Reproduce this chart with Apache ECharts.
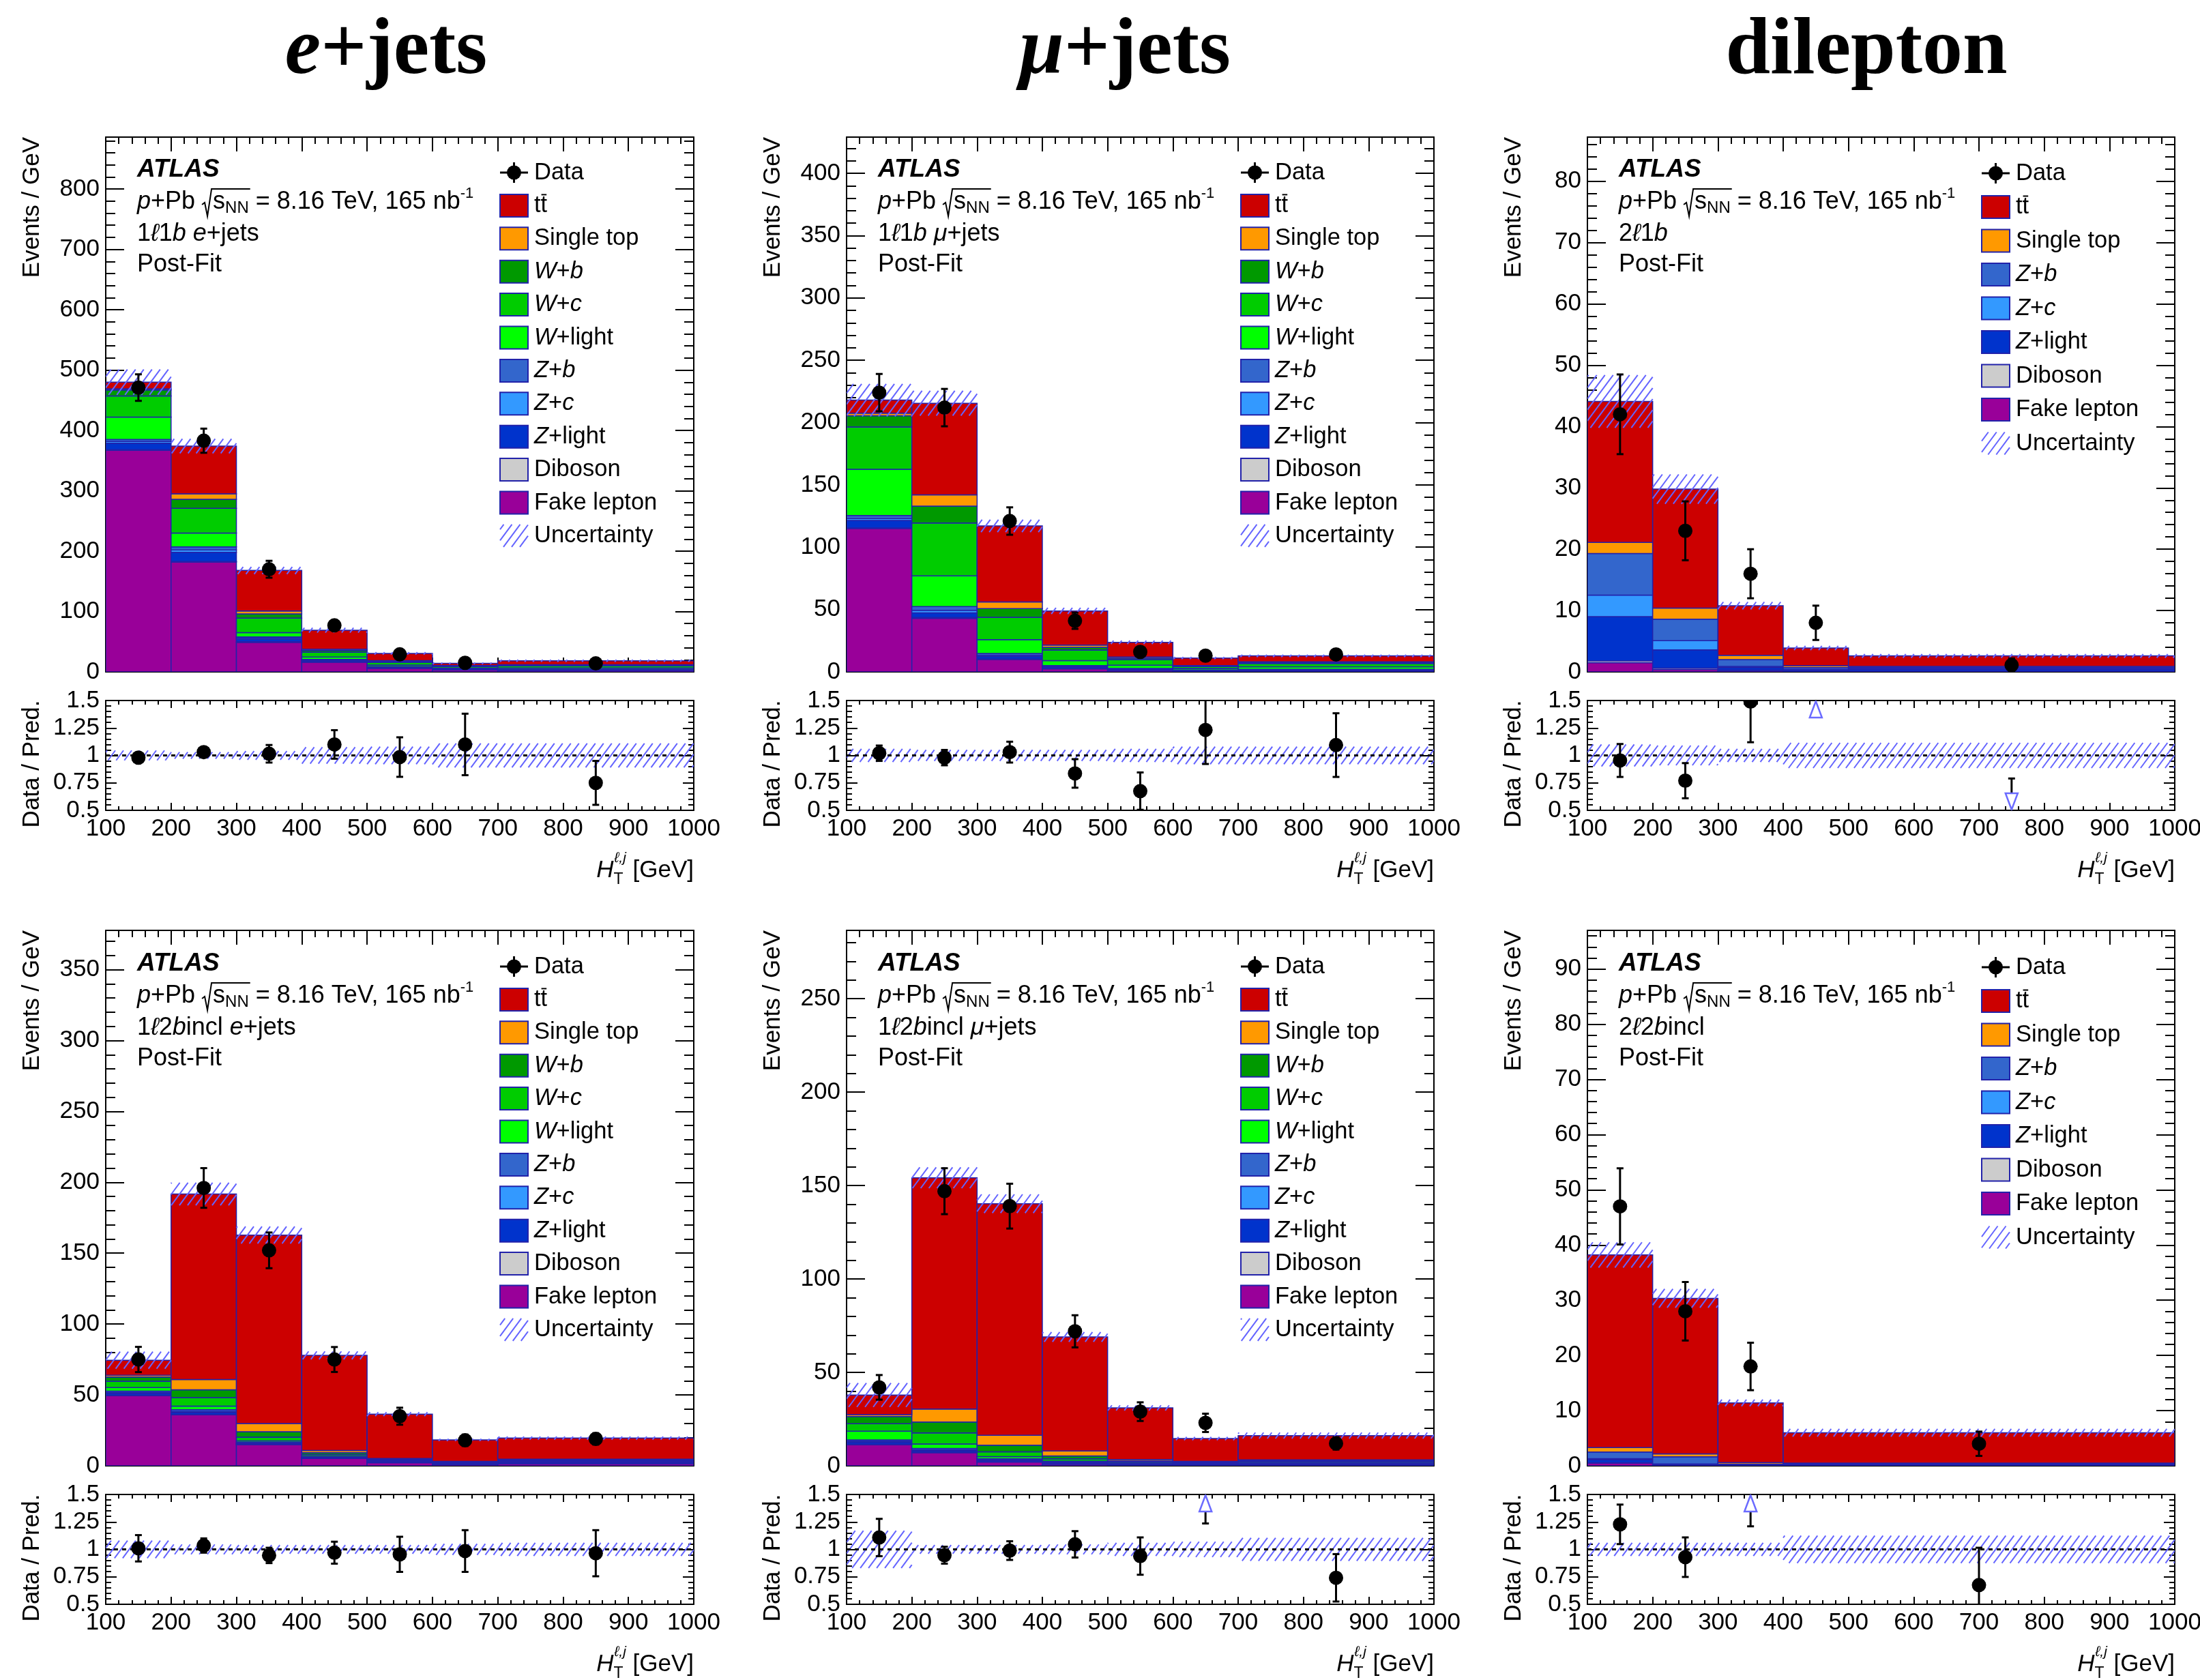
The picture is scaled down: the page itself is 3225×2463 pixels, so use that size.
<!DOCTYPE html>
<html><head><meta charset="utf-8">
<script src="https://cdn.jsdelivr.net/npm/echarts/dist/echarts.min.js"></script>
<style>html,body{margin:0;padding:0;background:#fff}#c{width:3225px;height:2463px}</style>
</head><body><div id="c"></div><script>
// ---------------- DATA (Events / GeV) ----------------
const EDGES_LJ = [100, 200, 300, 400, 500, 600, 700, 1000];
const EDGES_DL_1B = [100, 200, 300, 400, 500, 1000];
const EDGES_DL_2B = [100, 200, 300, 400, 1000];
const X_MIN = 100, X_MAX = 1000;
const RATIO_MIN = 0.5, RATIO_MAX = 1.5;

// 1l1b e+jets
const E1_FAKE   = [367, 182, 49, 16, 6, 3, 2.5];
const E1_DIBOSON= [1, 1, 1, 0.5, 0.3, 0.2, 0.3];
const E1_ZLIGHT = [11, 15, 4, 2, 1.5, 1, 1];
const E1_ZC     = [3, 4, 2, 1, 0.5, 0.3, 0.3];
const E1_ZB     = [3, 5, 2, 1, 0.5, 0.3, 0.3];
const E1_WLIGHT = [37, 23, 7, 4, 2.5, 1.5, 2];
const E1_WC     = [35, 41, 24, 8, 4.5, 2.5, 3.5];
const E1_WB     = [10, 15, 7, 3, 1.5, 1, 1.5];
const E1_SINGLE = [2, 9, 5, 2, 1.3, 0.7, 0.6];
const E1_TTBAR  = [11, 79, 67, 31.5, 12, 3.5, 6.3];
const E1_DATA   = [471, 383, 170, 77, 29, 15, 14];
const E1_DATA_ERR = [22, 20, 14, 8, 5, 4, 3.7];
const E1_UNC    = [21, 12, 6, 4, 2, 1.4, 1.8];
const E1_RATIO  = [0.98, 1.03, 1.015, 1.10, 0.985, 1.10, 0.75];
const E1_RATIO_ERR = [0.02, 0.02, 0.08, 0.13, 0.18, 0.28, 0.2];
const E1_RATIO_UNC = [0.045, 0.03, 0.04, 0.075, 0.08, 0.11, 0.11];

// 1l1b mu+jets
const M1_FAKE   = [115, 43, 10, 2.5, 1.2, 0.5, 0.6];
const M1_DIBOSON= [0.5, 0.6, 0.4, 0.3, 0.2, 0.1, 0.2];
const M1_ZLIGHT = [6, 3.8, 1.9, 1.2, 0.8, 0.5, 0.8];
const M1_ZC     = [1.5, 2, 1, 0.5, 0.3, 0.2, 0.2];
const M1_ZB     = [2.5, 3, 1.5, 0.5, 0.3, 0.2, 0.3];
const M1_WLIGHT = [37, 24.6, 11, 4, 2.5, 1.2, 2];
const M1_WC     = [34, 42.4, 18, 8.5, 4.5, 1.6, 2.6];
const M1_WB     = [9, 13.6, 7, 2.2, 1.2, 0.5, 1];
const M1_SINGLE = [2, 9, 5.3, 1.8, 0.9, 0.3, 0.4];
const M1_TTBAR  = [10.5, 73.5, 61, 27.4, 11.8, 6, 4.7];
const M1_DATA   = [224, 212, 121, 41, 16, 13, 14];
const M1_DATA_ERR = [15, 15, 11, 6.5, 4, 3.6, 3.7];
const M1_UNC    = [13, 10, 5, 2.5, 1.4, 0.9, 1.0];
const M1_RATIO  = [1.02, 0.98, 1.03, 0.836, 0.675, 1.232, 1.094];
const M1_RATIO_ERR = [0.07, 0.07, 0.095, 0.13, 0.17, 0.31, 0.29];
const M1_RATIO_UNC = [0.06, 0.05, 0.05, 0.05, 0.06, 0.08, 0.08];

// 2l1b dilepton
const D1_FAKE   = [1.5, 0.4, 0.2, 0.05, 0.05];
const D1_DIBOSON= [0.3, 0.2, 0.1, 0.05, 0.05];
const D1_ZLIGHT = [7.2, 3.0, 0.4, 0.2, 0.3];
const D1_ZC     = [3.5, 1.5, 0.2, 0.1, 0.1];
const D1_ZB     = [6.8, 3.5, 1.1, 0.3, 0.2];
const D1_SINGLE = [1.8, 1.8, 0.7, 0.3, 0.2];
const D1_TTBAR  = [23, 19.4, 8.1, 2.9, 1.7];
const D1_DATA   = [42, 23, 16, 8, 1.1];
const D1_DATA_ERR = [6.5, 4.8, 4, 2.8, 1.1];
const D1_UNC    = [4.3, 2.4, 0.6, 0.35, 0.3];
const D1_RATIO  = [0.954, 0.77, 1.49, 2.05, 0.38];
const D1_RATIO_ERR = [0.15, 0.16, 0.37, 0.5, 0.41];
const D1_RATIO_UNC = [0.1, 0.09, 0.06, 0.115, 0.115];

// 1l2bincl e+jets
const E2_FAKE   = [49.5, 36, 15, 5.2, 2.2, 1, 1.5];
const E2_DIBOSON= [0.3, 0.2, 0.1, 0.1, 0.1, 0.1, 0.1];
const E2_ZLIGHT = [1.3, 1.3, 0.5, 0.3, 0.3, 0.3, 0.5];
const E2_ZC     = [0.6, 0.8, 0.4, 0.2, 0.1, 0.1, 0.2];
const E2_ZB     = [1, 1.3, 0.6, 0.3, 0.2, 0.2, 0.3];
const E2_WLIGHT = [2.5, 2.5, 1, 0.5, 0.4, 0.3, 0.6];
const E2_WC     = [4.5, 6, 2.6, 1.2, 0.7, 0.5, 0.7];
const E2_WB     = [3, 5.5, 3.9, 1.5, 0.6, 0.3, 0.4];
const E2_SINGLE = [1.2, 7.3, 5.7, 1.5, 0.6, 0.3, 0.4];
const E2_TTBAR  = [10.6, 130.8, 133, 67.1, 31.3, 15.2, 14.9];
const E2_DATA   = [75, 196, 152, 75, 35, 18, 19];
const E2_DATA_ERR = [8.9, 14, 12.6, 8.8, 6, 4, 4];
const E2_UNC    = [6, 8, 6, 2.8, 1.4, 0.8, 1.1];
const E2_RATIO  = [1.01, 1.035, 0.945, 0.97, 0.955, 0.985, 0.965];
const E2_RATIO_ERR = [0.12, 0.065, 0.07, 0.1, 0.16, 0.19, 0.21];
const E2_RATIO_UNC = [0.08, 0.045, 0.04, 0.04, 0.04, 0.05, 0.06];

// 1l2bincl mu+jets
const M2_FAKE   = [11.3, 7, 2, 0.8, 0.3, 0.2, 0.3];
const M2_DIBOSON= [0.3, 0.3, 0.2, 0.2, 0.1, 0.1, 0.1];
const M2_ZLIGHT = [1, 0.7, 0.6, 0.4, 0.3, 0.3, 0.5];
const M2_ZC     = [0.5, 0.5, 0.3, 0.2, 0.1, 0.1, 0.1];
const M2_ZB     = [0.8, 0.8, 0.6, 0.3, 0.2, 0.2, 0.3];
const M2_WLIGHT = [4.6, 2.4, 1.2, 0.6, 0.4, 0.4, 0.6];
const M2_WC     = [4, 5.9, 2.6, 1.2, 0.6, 0.5, 0.7];
const M2_WB     = [3.9, 5.9, 3.5, 1.6, 0.6, 0.3, 0.3];
const M2_SINGLE = [1, 6.9, 5.3, 2.6, 0.8, 0.3, 0.3];
const M2_TTBAR  = [10.5, 123.8, 124, 61.1, 27.6, 12.2, 13];
const M2_DATA   = [42, 147, 139, 72, 29, 23, 12];
const M2_DATA_ERR = [6.6, 12.3, 12, 8.6, 5, 4.9, 3.3];
const M2_UNC    = [6.4, 5.6, 5, 2.6, 1.4, 0.9, 1.6];
const M2_RATIO  = [1.108, 0.947, 0.989, 1.046, 0.939, 1.58, 0.741];
const M2_RATIO_ERR = [0.17, 0.077, 0.085, 0.12, 0.17, 0.344, 0.216];
const M2_RATIO_UNC = [0.17, 0.04, 0.04, 0.045, 0.06, 0.07, 0.105];

// 2l2bincl dilepton
const D2_FAKE   = [0.5, 0.05, 0.02, 0.02];
const D2_DIBOSON= [0.1, 0.05, 0.03, 0.03];
const D2_ZLIGHT = [0.5, 0.15, 0.05, 0.1];
const D2_ZC     = [0.2, 0.1, 0.05, 0.05];
const D2_ZB     = [1.2, 1.3, 0.15, 0.15];
const D2_SINGLE = [0.8, 0.5, 0.3, 0.15];
const D2_TTBAR  = [34.9, 28.2, 10.8, 5.5];
const D2_DATA   = [47, 28, 18, 4];
const D2_DATA_ERR = [6.9, 5.3, 4.3, 2.2];
const D2_UNC    = [2.3, 1.7, 0.6, 0.7];
const D2_RATIO  = [1.228, 0.929, 1.58, 0.675];
const D2_RATIO_ERR = [0.18, 0.18, 0.37, 0.34];
const D2_RATIO_UNC = [0.06, 0.06, 0.06, 0.125];

// axis ranges: [ymax, major step, minor step]
const Y_E1 = [886, 100, 20];
const Y_M1 = [429, 50, 10];
const Y_D1 = [87.2, 10, 2];
const Y_E2 = [377.7, 50, 10];
const Y_M2 = [286.6, 50, 10];
const Y_D2 = [97, 10, 2];

const TITLES = ['e+jets', 'μ+jets', 'dilepton'];

// ---------------- STYLE / LAYOUT ----------------
const SANS = '"Liberation Sans", Arial, Helvetica, sans-serif';
const SERIF = '"Liberation Serif", "Times New Roman", serif';
const COLORS = {fake:'#990099', diboson:'#cccccc', zlight:'#0033cc', zc:'#3399ff', zb:'#3366cc',
  wlight:'#00ff00', wc:'#00cc00', wb:'#009900', single:'#ff9900', ttbar:'#cc0000'};
const STACK_ORDER = ['fake','diboson','zlight','zc','zb','wlight','wc','wb','single','ttbar'];
const EDGE_COLOR = '#2222aa';
const HATCH_COLOR = '#6464ff';
const PLOT_L = [155, 1241, 2327];
const PLOT_R = [1017, 2102, 3188];
const MAIN_T = [201, 1364], MAIN_B = [985, 2149];
const RAT_T = [1027, 2191], RAT_B = [1188, 2352];
const ROW_OFF = 1164;

const PANELS = [
  {col:0,row:0, edges:EDGES_LJ, y:Y_E1, leg:'lj', chan:'e1',
   comps:{fake:E1_FAKE,diboson:E1_DIBOSON,zlight:E1_ZLIGHT,zc:E1_ZC,zb:E1_ZB,wlight:E1_WLIGHT,wc:E1_WC,wb:E1_WB,single:E1_SINGLE,ttbar:E1_TTBAR},
   data:E1_DATA, err:E1_DATA_ERR, unc:E1_UNC, ratio:E1_RATIO, rerr:E1_RATIO_ERR, runc:E1_RATIO_UNC},
  {col:1,row:0, edges:EDGES_LJ, y:Y_M1, leg:'lj', chan:'m1',
   comps:{fake:M1_FAKE,diboson:M1_DIBOSON,zlight:M1_ZLIGHT,zc:M1_ZC,zb:M1_ZB,wlight:M1_WLIGHT,wc:M1_WC,wb:M1_WB,single:M1_SINGLE,ttbar:M1_TTBAR},
   data:M1_DATA, err:M1_DATA_ERR, unc:M1_UNC, ratio:M1_RATIO, rerr:M1_RATIO_ERR, runc:M1_RATIO_UNC},
  {col:2,row:0, edges:EDGES_DL_1B, y:Y_D1, leg:'dl', chan:'d1',
   comps:{fake:D1_FAKE,diboson:D1_DIBOSON,zlight:D1_ZLIGHT,zc:D1_ZC,zb:D1_ZB,single:D1_SINGLE,ttbar:D1_TTBAR},
   data:D1_DATA, err:D1_DATA_ERR, unc:D1_UNC, ratio:D1_RATIO, rerr:D1_RATIO_ERR, runc:D1_RATIO_UNC},
  {col:0,row:1, edges:EDGES_LJ, y:Y_E2, leg:'lj', chan:'e2',
   comps:{fake:E2_FAKE,diboson:E2_DIBOSON,zlight:E2_ZLIGHT,zc:E2_ZC,zb:E2_ZB,wlight:E2_WLIGHT,wc:E2_WC,wb:E2_WB,single:E2_SINGLE,ttbar:E2_TTBAR},
   data:E2_DATA, err:E2_DATA_ERR, unc:E2_UNC, ratio:E2_RATIO, rerr:E2_RATIO_ERR, runc:E2_RATIO_UNC},
  {col:1,row:1, edges:EDGES_LJ, y:Y_M2, leg:'lj', chan:'m2',
   comps:{fake:M2_FAKE,diboson:M2_DIBOSON,zlight:M2_ZLIGHT,zc:M2_ZC,zb:M2_ZB,wlight:M2_WLIGHT,wc:M2_WC,wb:M2_WB,single:M2_SINGLE,ttbar:M2_TTBAR},
   data:M2_DATA, err:M2_DATA_ERR, unc:M2_UNC, ratio:M2_RATIO, rerr:M2_RATIO_ERR, runc:M2_RATIO_UNC},
  {col:2,row:1, edges:EDGES_DL_2B, y:Y_D2, leg:'dl', chan:'d2',
   comps:{fake:D2_FAKE,diboson:D2_DIBOSON,zlight:D2_ZLIGHT,zc:D2_ZC,zb:D2_ZB,single:D2_SINGLE,ttbar:D2_TTBAR},
   data:D2_DATA, err:D2_DATA_ERR, unc:D2_UNC, ratio:D2_RATIO, rerr:D2_RATIO_ERR, runc:D2_RATIO_UNC},
];

// ---------------- helpers ----------------
const mctx = document.createElement('canvas').getContext('2d');
function fstr(p){ return (p.italic?'italic ':'') + (p.bold?'bold ':'') + (p.size||35) + 'px ' + (p.family||SANS); }
function tw(p){ if (p.gap) return p.gap; mctx.font = fstr(p); return mctx.measureText(p.t).width; }
function txt(x, y, text, font, align, extra){
  return Object.assign({type:'text', x:x, y:y, silent:true, z:50,
    style:{text:text, font:font, fill:'#000', align:align, verticalAlign:'middle', textAlign:align, textVerticalAlign:'middle'}}, extra||{});
}
function textRun(x, y, pieces, align){
  const ws = pieces.map(tw);
  const total = ws.reduce((a,b)=>a+b,0);
  let cx = align==='right' ? x-total : (align==='center' ? x-total/2 : x);
  const els = [], pos = [];
  pieces.forEach((p,i)=>{
    pos.push({x:cx, w:ws[i]});
    if (!p.gap) els.push(txt(cx, y+(p.dy||0), p.t, fstr(p), 'left'));
    cx += ws[i];
  });
  return {els:els, pos:pos, end:cx};
}
function lineEl(x1,y1,x2,y2,color,w,extra){
  return Object.assign({type:'line', silent:true, z:50, shape:{x1:x1,y1:y1,x2:x2,y2:y2}, style:{stroke:color, lineWidth:w}}, extra||{});
}
const HATCH_STEP = 12, HATCH_K = 1.35;
function hatchLines(xa, xb, ya, yb, z){
  const out = [];
  const k = HATCH_K, step = HATCH_STEP*k;
  const cmin = k*xa + ya, cmax = k*xb + yb;
  for (let c = Math.ceil(cmin/step)*step; c <= cmax; c += step){
    const x1 = Math.max(xa, (c-yb)/k), x2 = Math.min(xb, (c-ya)/k);
    if (x2 - x1 < 0.3) continue;
    out.push({type:'line', silent:true, z2: z||0, shape:{x1:x1, y1:c-k*x1, x2:x2, y2:c-k*x2}, style:{stroke:HATCH_COLOR, lineWidth:2}});
  }
  return out;
}

// ---------------- grids & axes ----------------
const grids = [], xAxes = [], yAxes = [];
function addGrid(left, right, top, bottom){
  grids.push({left:left, top:top, width:right-left, height:bottom-top, containLabel:false, outerBoundsMode:'none'});
  return grids.length-1;
}
const LABEL = {color:'#000', fontFamily:SANS, fontSize:35};
function addAxes(gi, isRatio, ymin, ymax, ymaj, ymnr){
  const xMaj = isRatio?11:21, xMin = isRatio?6:10, yMaj = isRatio?16:27, yMin = isRatio?8:14;
  const tick = (len)=>({show:true, inside:true, length:len, lineStyle:{color:'#000', width:2}});
  const line = (s)=>({show:s, onZero:false, lineStyle:{color:'#000', width:2}});
  const base = {gridIndex:gi, type:'value', splitLine:{show:false}, minorTick:{show:false}, silent:true};
  [['bottom',100,xMaj,true,isRatio],['bottom',20,xMin,false,false],['top',100,xMaj,true,false],['top',20,xMin,false,false]].forEach(a=>{
    xAxes.push(Object.assign({}, base, {position:a[0], min:X_MIN, max:X_MAX, interval:a[1],
      axisLine:line(a[3]), axisTick:tick(a[2]),
      axisLabel: a[4] ? Object.assign({}, LABEL, {margin:10, formatter:(v)=>String(v)}) : {show:false}}));
  });
  [['left',ymaj,yMaj,true,true],['left',ymnr,yMin,false,false],['right',ymaj,yMaj,true,false],['right',ymnr,yMin,false,false]].forEach(a=>{
    yAxes.push(Object.assign({}, base, {position:a[0], min:ymin, max:ymax, interval:a[1],
      axisLine:line(a[3]), axisTick:tick(a[2]),
      axisLabel: a[4] ? Object.assign({}, LABEL, {margin:9, formatter:(v)=>{
        const q = Math.round(v/ymaj); return Math.abs(q*ymaj - v) < 1e-6 ? String(+(q*ymaj).toFixed(2)) : '';}}) : {show:false}}));
  });
}

// ---------------- series ----------------
const series = [];
const graphics = [];
const compIndex = (k)=>STACK_ORDER.indexOf(k);

function renderRect(params, api){
  const a = api.coord([api.value(0), api.value(3)]);
  const b = api.coord([api.value(1), api.value(2)]);
  return {type:'rect', shape:{x:a[0], y:a[1], width:b[0]-a[0], height:b[1]-a[1]},
    style:{fill:COLORS[STACK_ORDER[api.value(4)]], stroke:EDGE_COLOR, lineWidth:1.5}};
}
function renderHatch(params, api){
  const a = api.coord([api.value(0), api.value(3)]);
  const b = api.coord([api.value(1), api.value(2)]);
  return {type:'group', children:hatchLines(a[0], b[0], a[1], b[1])};
}
function pointShapes(cx, cy, ylo, yhi){
  const ch = [];
  ch.push({type:'line', shape:{x1:cx,y1:ylo,x2:cx,y2:yhi}, style:{stroke:'#000', lineWidth:3}});
  ch.push({type:'line', shape:{x1:cx-5,y1:ylo,x2:cx+5,y2:ylo}, style:{stroke:'#000', lineWidth:3}});
  ch.push({type:'line', shape:{x1:cx-5,y1:yhi,x2:cx+5,y2:yhi}, style:{stroke:'#000', lineWidth:3}});
  ch.push({type:'circle', shape:{cx:cx, cy:cy, r:10.5}, style:{fill:'#000'}});
  return ch;
}
function renderData(params, api){
  const x = api.value(0), y = api.value(1), e = api.value(2);
  const c = api.coord([x,y]), lo = api.coord([x,y-e]), hi = api.coord([x,y+e]);
  return {type:'group', children:pointShapes(c[0], c[1], lo[1], hi[1])};
}
function renderRatio(params, api){
  const x = api.value(0), r = api.value(1), e = api.value(2);
  const top = api.coord([x, RATIO_MAX]), bot = api.coord([x, RATIO_MIN]);
  const cx = top[0];
  const tri = {stroke:'#6b6bff', fill:'rgba(0,0,0,0)', lineWidth:2.5};
  if (r > RATIO_MAX){
    const base = top[1] + 25;
    const ch = [{type:'polygon', shape:{points:[[cx,top[1]+1],[cx-9,base],[cx+9,base]]}, style:tri}];
    if (r - e < RATIO_MAX){
      const lo = api.coord([x, r-e])[1];
      ch.unshift({type:'line', shape:{x1:cx,y1:base,x2:cx,y2:lo}, style:{stroke:'#000', lineWidth:3}});
      ch.unshift({type:'line', shape:{x1:cx-5,y1:lo,x2:cx+5,y2:lo}, style:{stroke:'#000', lineWidth:3}});
    }
    return {type:'group', children:ch};
  }
  if (r < RATIO_MIN){
    const base = bot[1] - 25;
    const ch = [{type:'polygon', shape:{points:[[cx,bot[1]-1],[cx-9,base],[cx+9,base]]}, style:tri}];
    if (r + e > RATIO_MIN){
      const hi = api.coord([x, r+e])[1];
      ch.unshift({type:'line', shape:{x1:cx,y1:base,x2:cx,y2:hi}, style:{stroke:'#000', lineWidth:3}});
      ch.unshift({type:'line', shape:{x1:cx-5,y1:hi,x2:cx+5,y2:hi}, style:{stroke:'#000', lineWidth:3}});
    }
    return {type:'group', children:ch};
  }
  const c = api.coord([x,r]), lo = api.coord([x,r-e]), hi = api.coord([x,r+e]);
  return {type:'group', children:pointShapes(c[0], c[1], lo[1], hi[1])};
}

PANELS.forEach((p)=>{
  const L = PLOT_L[p.col], R = PLOT_R[p.col];
  const gm = addGrid(L, R, MAIN_T[p.row], MAIN_B[p.row]);
  addAxes(gm, false, 0, p.y[0], p.y[1], p.y[2]);
  const n = p.edges.length - 1;
  const totals = new Array(n).fill(0);
  const rects = [];
  STACK_ORDER.forEach((k)=>{
    const arr = p.comps[k]; if (!arr) return;
    for (let i=0;i<n;i++){ const lo = totals[i], hi = lo + arr[i];
      rects.push([p.edges[i], p.edges[i+1], lo, hi, compIndex(k)]); totals[i] = hi; }
  });
  const ax = gm*4;
  series.push({type:'custom', xAxisIndex:ax, yAxisIndex:ax, clip:true, z:2, silent:true, renderItem:renderRect,
    encode:{x:[0,1], y:[2,3]}, data:rects});
  const hat = [];
  for (let i=0;i<n;i++) hat.push([p.edges[i], p.edges[i+1], totals[i]-p.unc[i], totals[i]+p.unc[i]]);
  series.push({type:'custom', xAxisIndex:ax, yAxisIndex:ax, clip:true, z:3, silent:true, renderItem:renderHatch,
    encode:{x:[0,1], y:[2,3]}, data:hat});
  const pts = [];
  for (let i=0;i<n;i++) pts.push([(p.edges[i]+p.edges[i+1])/2, p.data[i], p.err[i]]);
  series.push({type:'custom', xAxisIndex:ax, yAxisIndex:ax, clip:true, z:4, silent:true, renderItem:renderData,
    encode:{x:0, y:1}, data:pts});

  // ratio panel
  const gr = addGrid(L, R, RAT_T[p.row], RAT_B[p.row]);
  addAxes(gr, true, RATIO_MIN, RATIO_MAX, 0.25, 0.05);
  const rx = gr*4;
  const rh = [];
  for (let i=0;i<n;i++) rh.push([p.edges[i], p.edges[i+1], 1-p.runc[i], 1+p.runc[i]]);
  series.push({type:'custom', xAxisIndex:rx, yAxisIndex:rx, clip:true, z:2, silent:true, renderItem:renderHatch,
    encode:{x:[0,1], y:[2,3]}, data:rh});
  series.push({type:'line', xAxisIndex:rx, yAxisIndex:rx, z:3, silent:true, symbol:'none',
    lineStyle:{color:'#000', width:3, type:[6,6]}, data:[[X_MIN,1],[X_MAX,1]]});
  const rp = [];
  for (let i=0;i<n;i++) rp.push([(p.edges[i]+p.edges[i+1])/2, p.ratio[i], p.rerr[i]]);
  series.push({type:'custom', xAxisIndex:rx, yAxisIndex:rx, clip:true, z:4, silent:true, renderItem:renderRatio,
    encode:{x:0, y:1}, data:rp});

  // ---- texts ----
  const dy = p.row*ROW_OFF;
  const tx = L + 46;
  const IS = 36;
  graphics.push(txt(tx, 249+dy, 'ATLAS', fstr({bold:true, italic:true, size:37}), 'left'));
  // line 2: p+Pb sqrt(s_NN) = 8.16 TeV, 165 nb^-1
  const l2y = 296+dy;
  const run2 = textRun(tx, l2y, [{t:'p', italic:true, size:IS},{t:'+Pb ', size:IS},{gap:16},{t:'s', size:IS},{t:'NN', size:24, dy:9},
    {t:' = 8.16 TeV, 165 nb', size:IS},{t:'-1', size:22, dy:-12}], 'left');
  run2.els.forEach(e=>graphics.push(e));
  const gx = run2.pos[2].x, nnEnd = run2.pos[4].x + run2.pos[4].w;
  graphics.push({type:'polyline', silent:true, z:50, shape:{points:[[gx,l2y+4],[gx+4,l2y+1],[gx+8,l2y+21],[gx+14,l2y-19],[nnEnd+2,l2y-19]]},
    style:{stroke:'#000', lineWidth:2, fill:null}});
  // line 3: region label
  const chanPieces = {
    e1:[{t:'1'},{t:'ℓ',italic:true},{t:'1'},{t:'b',italic:true},{t:' '},{t:'e',italic:true},{t:'+jets'}],
    m1:[{t:'1'},{t:'ℓ',italic:true},{t:'1'},{t:'b',italic:true},{t:' '},{t:'μ',italic:true},{t:'+jets'}],
    d1:[{t:'2'},{t:'ℓ',italic:true},{t:'1'},{t:'b',italic:true}],
    e2:[{t:'1'},{t:'ℓ',italic:true},{t:'2'},{t:'b',italic:true},{t:'incl '},{t:'e',italic:true},{t:'+jets'}],
    m2:[{t:'1'},{t:'ℓ',italic:true},{t:'2'},{t:'b',italic:true},{t:'incl '},{t:'μ',italic:true},{t:'+jets'}],
    d2:[{t:'2'},{t:'ℓ',italic:true},{t:'2'},{t:'b',italic:true},{t:'incl'}],
  }[p.chan].map(o=>Object.assign({size:IS}, o));
  textRun(tx, 343+dy, chanPieces, 'left').els.forEach(e=>graphics.push(e));
  graphics.push(txt(tx, 388+dy, 'Post-Fit', fstr({size:IS}), 'left'));

  // ---- legend ----
  const lj = p.leg === 'lj';
  const entries = lj ? ['data','ttbar','single','wb','wc','wlight','zb','zc','zlight','diboson','fake','unc']
                     : ['data','ttbar','single','zb','zc','zlight','diboson','fake','unc'];
  const bx = [733, 1819, 2905][p.col];
  const y0 = (lj ? 253 : 254) + dy, step = lj ? 48.4 : 49.5;
  const labels = {
    data:[{t:'Data'}], ttbar:[{t:'t'},{t:'t'}], single:[{t:'Single top'}],
    wb:[{t:'W',italic:true},{t:'+'},{t:'b',italic:true}], wc:[{t:'W',italic:true},{t:'+'},{t:'c',italic:true}],
    wlight:[{t:'W',italic:true},{t:'+light'}],
    zb:[{t:'Z',italic:true},{t:'+'},{t:'b',italic:true}], zc:[{t:'Z',italic:true},{t:'+'},{t:'c',italic:true}],
    zlight:[{t:'Z',italic:true},{t:'+light'}],
    diboson:[{t:'Diboson'}], fake:[{t:'Fake lepton'}], unc:[{t:'Uncertainty'}]
  };
  entries.forEach((k, i)=>{
    const cy = y0 + i*step;
    if (k === 'data'){
      graphics.push(lineEl(bx, cy, bx+41, cy, '#000', 3));
      graphics.push(lineEl(bx+20.5, cy-15, bx+20.5, cy+15, '#000', 3));
      graphics.push({type:'circle', silent:true, z:50, shape:{cx:bx+20.5, cy:cy, r:10.5}, style:{fill:'#000'}});
    } else if (k === 'unc'){
      hatchLines(bx, bx+41, cy-16.5, cy+16.5).forEach(h=>{h.z = 50; graphics.push(h);});
    } else {
      graphics.push({type:'rect', silent:true, z:50, shape:{x:bx, y:cy-16.5, width:41, height:33},
        style:{fill:COLORS[k], stroke:EDGE_COLOR, lineWidth:2}});
    }
    const pieces = labels[k].map(o=>Object.assign({size:34.5}, o));
    const run = textRun(bx+50, cy, pieces, 'left');
    run.els.forEach(e=>graphics.push(e));
    if (k === 'ttbar'){
      const q = run.pos[1];
      graphics.push(lineEl(q.x+1, cy-16, q.x+q.w-1, cy-16, '#000', 2));
    }
  });

  // ---- axis titles ----
  graphics.push(txt(L-108, MAIN_T[p.row], 'Events / GeV', fstr({}), 'right', {rotation:Math.PI/2}));
  graphics.push(txt(L-108, 1120+dy, 'Data / Pred.', fstr({}), 'center', {rotation:Math.PI/2}));
  const xy = 1276 + dy;
  const gev = {t:' [GeV]'}, wG = tw(gev);
  const sub = {t:'T', size:23}, sup = {t:'ℓ,j', italic:true, size:21};
  const wS = Math.max(tw(sub), tw(sup));
  const H = {t:'H', italic:true}, wH = tw(H);
  const xG = R - wG, xS = xG - wS - 1, xH = xS - wH;
  graphics.push(txt(xG, xy, gev.t, fstr(gev), 'left'));
  graphics.push(txt(xS, xy+14, sub.t, fstr(sub), 'left'));
  graphics.push(txt(xS+1, xy-18, sup.t, fstr(sup), 'left'));
  graphics.push(txt(xH, xy, H.t, fstr(H), 'left'));
});

// column titles
const TITLE_X = [566, 1649, 2736];
const titlePieces = [
  [{t:'e', italic:true, bold:true, size:118, family:SERIF},{t:'+jets', bold:true, size:118, family:SERIF}],
  [{t:'μ', italic:true, bold:true, size:118, family:SERIF},{t:'+jets', bold:true, size:118, family:SERIF}],
  [{t:'dilepton', bold:true, size:118, family:SERIF}]
];
titlePieces.forEach((pc,i)=>textRun(TITLE_X[i], 77, pc, 'center').els.forEach(e=>graphics.push(e)));

const chart = echarts.init(document.getElementById('c'), null, {renderer:'canvas', width:3225, height:2463});
chart.setOption({
  animation:false, backgroundColor:'#ffffff',
  grid:grids, xAxis:xAxes, yAxis:yAxes, series:series,
  graphic:{elements:graphics}
});
</script></body></html>
